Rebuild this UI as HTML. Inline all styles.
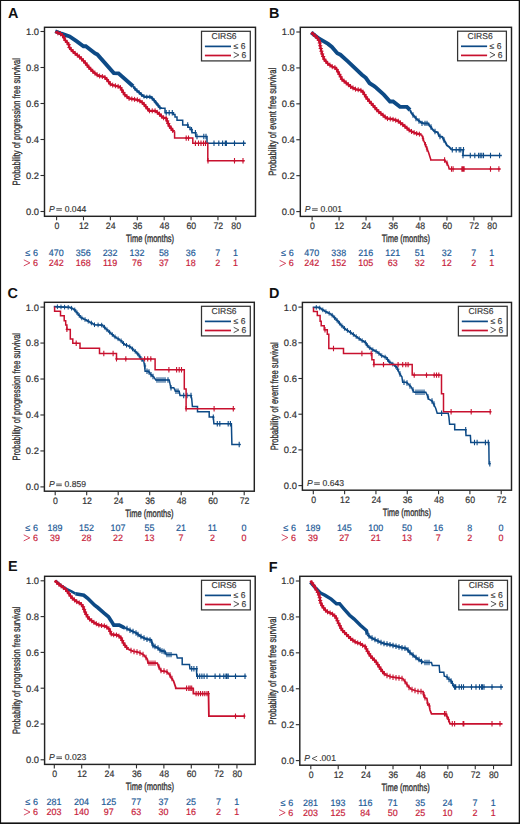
<!DOCTYPE html>
<html><head><meta charset="utf-8"><style>
html,body{margin:0;padding:0;background:#fff;}
svg{display:block;}
text{font-family:"Liberation Sans",sans-serif;text-rendering:geometricPrecision;}
.let{font-size:14.4px;font-weight:bold;fill:#111;}
.ax{fill:none;stroke:#222;stroke-width:1.45;}
.tk{stroke:#2b2b2b;stroke-width:1.1;}
.tl{font-size:9.4px;fill:#333333;stroke:#333333;stroke-width:0.2px;}
.ttl{font-size:10.6px;fill:#333333;stroke:#333333;stroke-width:0.35px;}
.pv{font-size:8.6px;fill:#333333;stroke:#333333;stroke-width:0.15px;}
.lg{fill:#fff;stroke:#333;stroke-width:1.25;}
.lgt{font-size:8.5px;fill:#333333;stroke:#333333;stroke-width:0.15px;}
.rk{font-size:9px;stroke-width:0.2px;}
.rkn{font-size:9.3px;stroke-width:0.2px;}
.cv{fill:none;stroke-linejoin:miter;stroke-linecap:butt;}
.cs{fill:none;}
</style></head><body>
<svg width="520" height="824" viewBox="0 0 520 824">
<rect x="0" y="0" width="520" height="824" fill="#fff"/>
<g id="pA"><text x="8" y="17.5" class="let">A</text><rect x="44.5" y="27.3" width="211" height="189" class="ax"/><line x1="40.5" y1="211.5" x2="44.5" y2="211.5" class="tk"/><text transform="translate(39,214.9) scale(1.0,1)" class="tl" text-anchor="end">0.0</text><line x1="40.5" y1="175.5" x2="44.5" y2="175.5" class="tk"/><text transform="translate(39,178.9) scale(1.0,1)" class="tl" text-anchor="end">0.2</text><line x1="40.5" y1="139.5" x2="44.5" y2="139.5" class="tk"/><text transform="translate(39,142.9) scale(1.0,1)" class="tl" text-anchor="end">0.4</text><line x1="40.5" y1="103.5" x2="44.5" y2="103.5" class="tk"/><text transform="translate(39,106.9) scale(1.0,1)" class="tl" text-anchor="end">0.6</text><line x1="40.5" y1="67.5" x2="44.5" y2="67.5" class="tk"/><text transform="translate(39,70.9) scale(1.0,1)" class="tl" text-anchor="end">0.8</text><line x1="40.5" y1="31.5" x2="44.5" y2="31.5" class="tk"/><text transform="translate(39,34.9) scale(1.0,1)" class="tl" text-anchor="end">1.0</text><line x1="56.6" y1="216.3" x2="56.6" y2="220.3" class="tk"/><text transform="translate(56.9,229) scale(0.93,1)" class="tl" text-anchor="middle">0</text><line x1="83.49" y1="216.3" x2="83.49" y2="220.3" class="tk"/><text transform="translate(83.79,229) scale(0.93,1)" class="tl" text-anchor="middle">12</text><line x1="110.38" y1="216.3" x2="110.38" y2="220.3" class="tk"/><text transform="translate(110.68,229) scale(0.93,1)" class="tl" text-anchor="middle">24</text><line x1="137.28" y1="216.3" x2="137.28" y2="220.3" class="tk"/><text transform="translate(137.58,229) scale(0.93,1)" class="tl" text-anchor="middle">36</text><line x1="164.17" y1="216.3" x2="164.17" y2="220.3" class="tk"/><text transform="translate(164.47,229) scale(0.93,1)" class="tl" text-anchor="middle">48</text><line x1="191.06" y1="216.3" x2="191.06" y2="220.3" class="tk"/><text transform="translate(191.36,229) scale(0.93,1)" class="tl" text-anchor="middle">60</text><line x1="217.95" y1="216.3" x2="217.95" y2="220.3" class="tk"/><text transform="translate(218.25,229) scale(0.93,1)" class="tl" text-anchor="middle">72</text><line x1="235.88" y1="216.3" x2="235.88" y2="220.3" class="tk"/><text transform="translate(236.18,229) scale(0.93,1)" class="tl" text-anchor="middle">80</text><text x="150" y="242.1" class="ttl" text-anchor="middle" textLength="48.2" lengthAdjust="spacingAndGlyphs">Time (months)</text><text transform="translate(20.2,121.8) rotate(-90)" x="0" y="0" class="ttl" text-anchor="middle" textLength="127.5" lengthAdjust="spacingAndGlyphs">Probability of progression free survival</text><text x="49" y="211.9" class="pv" font-style="italic">P</text><path d="M56.3 208.65h5.6M56.3 210.25h5.6" stroke="#4a4a4a" stroke-width="0.9" fill="none"/><text x="64.7" y="211.9" class="pv">0.044</text><rect x="201.5" y="31.3" width="48.8" height="29.6" class="lg"/><text x="211.5" y="39.3" class="lgt">CIRS6</text><line x1="204.9" y1="46.4" x2="231" y2="46.4" stroke="#0d4a86" stroke-width="1.7"/><line x1="204.9" y1="55.5" x2="231" y2="55.5" stroke="#c8102e" stroke-width="1.7"/><text x="233.5" y="49.1" class="lgt">&#8804;</text><text x="240.7" y="49.1" class="lgt">6</text><path d="M233.7 52.3L238.9 54.95L233.7 57.6" stroke="#333333" stroke-width="0.85" fill="none"/><text x="241.6" y="57.8" class="lgt">6</text><text x="30.2" y="256.2" class="rk" fill="#1f5c98" stroke="#1f5c98" text-anchor="end">&#8804;</text><text x="38" y="256.2" class="rk" fill="#1f5c98" stroke="#1f5c98" text-anchor="end">6</text><path d="M23.8 259.8L29.9 262.85L23.8 265.9" stroke="#c81e3c" stroke-width="0.8" fill="none"/><text x="38" y="265.8" class="rk" fill="#c81e3c" stroke="#c81e3c" text-anchor="end">6</text><text transform="translate(56.3,256.2) scale(0.96,1)" class="rkn" fill="#1f5c98" stroke="#1f5c98" text-anchor="middle">470</text><text transform="translate(56.3,265.8) scale(0.96,1)" class="rkn" fill="#c81e3c" stroke="#c81e3c" text-anchor="middle">242</text><text transform="translate(83.19,256.2) scale(0.96,1)" class="rkn" fill="#1f5c98" stroke="#1f5c98" text-anchor="middle">356</text><text transform="translate(83.19,265.8) scale(0.96,1)" class="rkn" fill="#c81e3c" stroke="#c81e3c" text-anchor="middle">168</text><text transform="translate(110.08,256.2) scale(0.96,1)" class="rkn" fill="#1f5c98" stroke="#1f5c98" text-anchor="middle">232</text><text transform="translate(110.08,265.8) scale(0.96,1)" class="rkn" fill="#c81e3c" stroke="#c81e3c" text-anchor="middle">119</text><text transform="translate(136.98,256.2) scale(0.96,1)" class="rkn" fill="#1f5c98" stroke="#1f5c98" text-anchor="middle">132</text><text transform="translate(136.98,265.8) scale(0.96,1)" class="rkn" fill="#c81e3c" stroke="#c81e3c" text-anchor="middle">76</text><text transform="translate(163.87,256.2) scale(0.96,1)" class="rkn" fill="#1f5c98" stroke="#1f5c98" text-anchor="middle">58</text><text transform="translate(163.87,265.8) scale(0.96,1)" class="rkn" fill="#c81e3c" stroke="#c81e3c" text-anchor="middle">37</text><text transform="translate(190.76,256.2) scale(0.96,1)" class="rkn" fill="#1f5c98" stroke="#1f5c98" text-anchor="middle">36</text><text transform="translate(190.76,265.8) scale(0.96,1)" class="rkn" fill="#c81e3c" stroke="#c81e3c" text-anchor="middle">18</text><text transform="translate(217.65,256.2) scale(0.96,1)" class="rkn" fill="#1f5c98" stroke="#1f5c98" text-anchor="middle">7</text><text transform="translate(217.65,265.8) scale(0.96,1)" class="rkn" fill="#c81e3c" stroke="#c81e3c" text-anchor="middle">2</text><text transform="translate(235.58,256.2) scale(0.96,1)" class="rkn" fill="#1f5c98" stroke="#1f5c98" text-anchor="middle">1</text><text transform="translate(235.58,265.8) scale(0.96,1)" class="rkn" fill="#c81e3c" stroke="#c81e3c" text-anchor="middle">1</text><path d="M55.2 31.3 61.5 33.7 69.6 36.5 76.5 41.2 83.5 46.3 85.8 46.3 95 53.3 97.3 54.4 113.8 73.1 118.5 73.4 133.1 86.2" stroke="#0d4a86" stroke-width="3.9" class="cv"/><path d="M133.1 86.2 135.4 89.2 141.5 94.6 144.6 96.9 150.8 96.9 153.8 100 160 107.7 161 108.3" stroke="#0d4a86" stroke-width="2.2" class="cv"/><path d="M134.93 86.38v4.4M133.23 88.58h3.4M137.06 88.47v4.4M135.36 90.67h3.4M139.31 90.46v4.4M137.61 92.66h3.4M141.56 92.44v4.4M139.86 94.64h3.4M143.97 94.23v4.4M142.27 96.43h3.4M146.81 94.7v4.4M145.11 96.9h3.4M149.81 94.7v4.4M148.11 96.9h3.4M152.2 96.15v4.4M150.5 98.35h3.4M154.24 98.34v4.4M152.54 100.54h3.4M156.12 100.68v4.4M154.42 102.88h3.4M158 103.02v4.4M156.3 105.22h3.4M159.88 105.35v4.4M158.18 107.55h3.4" stroke="#0d4a86" stroke-width="1.0" class="cs"/><path d="M160 108.3 165 108.3 165 112.7 173.5 112.7 173.5 114.5 175 114.5 175 117 177 117 177 120.2 182.7 120.2 182.7 125 188 125 188 127.3 190 127.3 190 129.6 192 129.6 192 132.7 195.8 132.7 195.8 136.5 207 136.5 207 143.2 245.8 143.2" stroke="#0d4a86" stroke-width="1.5" class="cv"/><path d="M166.2 110v5.4M165 112.7h2.4M169.2 110v5.4M168 112.7h2.4M172.3 110v5.4M171.1 112.7h2.4M187.7 122.3v5.4M186.5 125h2.4M191.5 126.9v5.4M190.3 129.6h2.4M195.4 130v5.4M194.2 132.7h2.4M197 133.8v5.4M195.8 136.5h2.4M203.8 133.8v5.4M202.6 136.5h2.4M206 133.8v5.4M204.8 136.5h2.4M214 140.5v5.4M212.8 143.2h2.4M218.8 140.5v5.4M217.6 143.2h2.4M222.6 140.5v5.4M221.4 143.2h2.4M225.3 140.5v5.4M224.1 143.2h2.4M226.4 140.5v5.4M225.2 143.2h2.4M234.5 140.5v5.4M233.3 143.2h2.4M243.6 140.5v5.4M242.4 143.2h2.4" stroke="#0d4a86" stroke-width="1.1" class="cs"/><path d="M55.2 31.9 61.5 34.2 63.8 37.1 65 40 68.5 44 69.6 48 74.2 52.7 80 57.3 84.6 62 89.2 67.7 93.8 72.3 98.5 75.8 104.2 76.9 106.2 78.5 110.8 84.6 120 86.9 124.6 94.6 129.2 98.5 138.5 100 143 103 149.2 110.8 155.4 110.8 160 114.6 163 117.7 166 118 169.2 125.8 171.5 128.8 173.8 131.9" stroke="#c8102e" stroke-width="2.3" class="cv"/><path d="M57.83 30.36v5M55.73 32.86h4.2M60.46 31.32v5M58.36 33.82h4.2M62.55 33.03v5M60.45 35.53h4.2M64.1 35.33v5M62 37.83h4.2M65.3 37.84v5M63.2 40.34h4.2M67.14 39.95v5M65.04 42.45h4.2M68.7 42.21v5M66.6 44.71h4.2M69.44 44.91v5M67.34 47.41h4.2M71.13 47.07v5M69.03 49.57h4.2M73.09 49.07v5M70.99 51.57h4.2M75.15 50.95v5M73.05 53.45h4.2M77.34 52.69v5M75.24 55.19h4.2M79.54 54.43v5M77.44 56.93h4.2M81.55 56.38v5M79.45 58.88h4.2M83.5 58.38v5M81.4 60.88h4.2M85.38 60.46v5M83.28 62.96h4.2M87.13 62.64v5M85.03 65.14h4.2M88.89 64.82v5M86.79 67.32h4.2M90.83 66.83v5M88.73 69.33h4.2M92.81 68.81v5M90.71 71.31h4.2M94.93 70.64v5M92.83 73.14h4.2M97.17 72.31v5M95.07 74.81h4.2M99.62 73.52v5M97.52 76.02h4.2M102.37 74.05v5M100.27 76.55h4.2M104.93 74.99v5M102.83 77.49h4.2M106.91 76.94v5M104.81 79.44h4.2M108.6 79.18v5M106.5 81.68h4.2M110.28 81.41v5M108.18 83.91h4.2M112.68 82.57v5M110.58 85.07h4.2M115.4 83.25v5M113.3 85.75h4.2M118.11 83.93v5M116.01 86.43h4.2M120.44 85.13v5M118.34 87.63h4.2M121.87 87.54v5M119.77 90.04h4.2M123.31 89.94v5M121.21 92.44h4.2M124.82 92.28v5M122.72 94.78h4.2M126.95 94.1v5M124.85 96.6h4.2M129.09 95.91v5M126.99 98.41h4.2M131.82 96.42v5M129.72 98.92h4.2M134.58 96.87v5M132.48 99.37h4.2M137.35 97.31v5M135.25 99.81h4.2M139.86 98.41v5M137.76 100.91h4.2M142.19 99.96v5M140.09 102.46h4.2M144.14 101.93v5M142.04 104.43h4.2M145.88 104.12v5M143.78 106.62h4.2M147.62 106.31v5M145.52 108.81h4.2M149.46 108.3v5M147.36 110.8h4.2M152.26 108.3v5M150.16 110.8h4.2M155.06 108.3v5M152.96 110.8h4.2M157.3 109.87v5M155.2 112.37h4.2M159.46 111.65v5M157.36 114.15h4.2M161.46 113.61v5M159.36 116.11h4.2M163.58 115.26v5M161.48 117.76h4.2M166.14 115.84v5M164.04 118.34h4.2M167.2 118.43v5M165.1 120.93h4.2M168.26 121.02v5M166.16 123.52h4.2M169.4 123.57v5M167.3 126.07h4.2M171.11 125.79v5M169.01 128.29h4.2M172.78 128.03v5M170.68 130.53h4.2" stroke="#c8102e" stroke-width="1.0" class="cs"/><path d="M173.8 131.9 174.6 131.9 174.6 138.1 192.8 138.1 192.8 143.2 207.8 143.2 207.8 160.7 244.7 160.7" stroke="#c8102e" stroke-width="1.5" class="cv"/><path d="M186.2 135.4v5.4M185 138.1h2.4M188.5 135.4v5.4M187.3 138.1h2.4M195.4 140.5v5.4M194.2 143.2h2.4M198.5 140.5v5.4M197.3 143.2h2.4M201 140.5v5.4M199.8 143.2h2.4M203.5 140.5v5.4M202.3 143.2h2.4M205.5 140.5v5.4M204.3 143.2h2.4M208 158v5.4M206.8 160.7h2.4M234.5 158v5.4M233.3 160.7h2.4M243 158v5.4M241.8 160.7h2.4" stroke="#c8102e" stroke-width="1.1" class="cs"/></g>
<g id="pB"><text x="268.9" y="17.6" class="let">B</text><rect x="300.3" y="27.3" width="211.2" height="189.1" class="ax"/><line x1="296.3" y1="211.6" x2="300.3" y2="211.6" class="tk"/><text transform="translate(294.8,215) scale(1.0,1)" class="tl" text-anchor="end">0.0</text><line x1="296.3" y1="175.68" x2="300.3" y2="175.68" class="tk"/><text transform="translate(294.8,179.08) scale(1.0,1)" class="tl" text-anchor="end">0.2</text><line x1="296.3" y1="139.76" x2="300.3" y2="139.76" class="tk"/><text transform="translate(294.8,143.16) scale(1.0,1)" class="tl" text-anchor="end">0.4</text><line x1="296.3" y1="103.84" x2="300.3" y2="103.84" class="tk"/><text transform="translate(294.8,107.24) scale(1.0,1)" class="tl" text-anchor="end">0.6</text><line x1="296.3" y1="67.92" x2="300.3" y2="67.92" class="tk"/><text transform="translate(294.8,71.32) scale(1.0,1)" class="tl" text-anchor="end">0.8</text><line x1="296.3" y1="32" x2="300.3" y2="32" class="tk"/><text transform="translate(294.8,35.4) scale(1.0,1)" class="tl" text-anchor="end">1.0</text><line x1="312.1" y1="216.4" x2="312.1" y2="220.4" class="tk"/><text transform="translate(312.4,229.1) scale(0.93,1)" class="tl" text-anchor="middle">0</text><line x1="339.07" y1="216.4" x2="339.07" y2="220.4" class="tk"/><text transform="translate(339.37,229.1) scale(0.93,1)" class="tl" text-anchor="middle">12</text><line x1="366.04" y1="216.4" x2="366.04" y2="220.4" class="tk"/><text transform="translate(366.34,229.1) scale(0.93,1)" class="tl" text-anchor="middle">24</text><line x1="393.01" y1="216.4" x2="393.01" y2="220.4" class="tk"/><text transform="translate(393.31,229.1) scale(0.93,1)" class="tl" text-anchor="middle">36</text><line x1="419.98" y1="216.4" x2="419.98" y2="220.4" class="tk"/><text transform="translate(420.28,229.1) scale(0.93,1)" class="tl" text-anchor="middle">48</text><line x1="446.95" y1="216.4" x2="446.95" y2="220.4" class="tk"/><text transform="translate(447.25,229.1) scale(0.93,1)" class="tl" text-anchor="middle">60</text><line x1="473.92" y1="216.4" x2="473.92" y2="220.4" class="tk"/><text transform="translate(474.22,229.1) scale(0.93,1)" class="tl" text-anchor="middle">72</text><line x1="491.9" y1="216.4" x2="491.9" y2="220.4" class="tk"/><text transform="translate(492.2,229.1) scale(0.93,1)" class="tl" text-anchor="middle">80</text><text x="405.9" y="242.2" class="ttl" text-anchor="middle" textLength="48.2" lengthAdjust="spacingAndGlyphs">Time (months)</text><text transform="translate(276,121.85) rotate(-90)" x="0" y="0" class="ttl" text-anchor="middle" textLength="107.9" lengthAdjust="spacingAndGlyphs">Probability of event free survival</text><text x="304.8" y="212" class="pv" font-style="italic">P</text><path d="M312.1 208.75h5.6M312.1 210.35h5.6" stroke="#4a4a4a" stroke-width="0.9" fill="none"/><text x="320.5" y="212" class="pv">0.001</text><rect x="457.6" y="31.2" width="48.8" height="29.6" class="lg"/><text x="467.6" y="39.2" class="lgt">CIRS6</text><line x1="461" y1="46.3" x2="487.1" y2="46.3" stroke="#0d4a86" stroke-width="1.7"/><line x1="461" y1="55.4" x2="487.1" y2="55.4" stroke="#c8102e" stroke-width="1.7"/><text x="489.6" y="49" class="lgt">&#8804;</text><text x="496.8" y="49" class="lgt">6</text><path d="M489.8 52.2L495 54.85L489.8 57.5" stroke="#333333" stroke-width="0.85" fill="none"/><text x="497.7" y="57.7" class="lgt">6</text><text x="286" y="256.3" class="rk" fill="#1f5c98" stroke="#1f5c98" text-anchor="end">&#8804;</text><text x="293.8" y="256.3" class="rk" fill="#1f5c98" stroke="#1f5c98" text-anchor="end">6</text><path d="M279.6 260.3L285.7 263.35L279.6 266.4" stroke="#c81e3c" stroke-width="0.8" fill="none"/><text x="293.8" y="266.3" class="rk" fill="#c81e3c" stroke="#c81e3c" text-anchor="end">6</text><text transform="translate(311.8,256.3) scale(0.96,1)" class="rkn" fill="#1f5c98" stroke="#1f5c98" text-anchor="middle">470</text><text transform="translate(311.8,266.3) scale(0.96,1)" class="rkn" fill="#c81e3c" stroke="#c81e3c" text-anchor="middle">242</text><text transform="translate(338.77,256.3) scale(0.96,1)" class="rkn" fill="#1f5c98" stroke="#1f5c98" text-anchor="middle">338</text><text transform="translate(338.77,266.3) scale(0.96,1)" class="rkn" fill="#c81e3c" stroke="#c81e3c" text-anchor="middle">152</text><text transform="translate(365.74,256.3) scale(0.96,1)" class="rkn" fill="#1f5c98" stroke="#1f5c98" text-anchor="middle">216</text><text transform="translate(365.74,266.3) scale(0.96,1)" class="rkn" fill="#c81e3c" stroke="#c81e3c" text-anchor="middle">105</text><text transform="translate(392.71,256.3) scale(0.96,1)" class="rkn" fill="#1f5c98" stroke="#1f5c98" text-anchor="middle">121</text><text transform="translate(392.71,266.3) scale(0.96,1)" class="rkn" fill="#c81e3c" stroke="#c81e3c" text-anchor="middle">63</text><text transform="translate(419.68,256.3) scale(0.96,1)" class="rkn" fill="#1f5c98" stroke="#1f5c98" text-anchor="middle">51</text><text transform="translate(419.68,266.3) scale(0.96,1)" class="rkn" fill="#c81e3c" stroke="#c81e3c" text-anchor="middle">32</text><text transform="translate(446.65,256.3) scale(0.96,1)" class="rkn" fill="#1f5c98" stroke="#1f5c98" text-anchor="middle">32</text><text transform="translate(446.65,266.3) scale(0.96,1)" class="rkn" fill="#c81e3c" stroke="#c81e3c" text-anchor="middle">12</text><text transform="translate(473.62,256.3) scale(0.96,1)" class="rkn" fill="#1f5c98" stroke="#1f5c98" text-anchor="middle">7</text><text transform="translate(473.62,266.3) scale(0.96,1)" class="rkn" fill="#c81e3c" stroke="#c81e3c" text-anchor="middle">2</text><text transform="translate(491.6,256.3) scale(0.96,1)" class="rkn" fill="#1f5c98" stroke="#1f5c98" text-anchor="middle">1</text><text transform="translate(491.6,266.3) scale(0.96,1)" class="rkn" fill="#c81e3c" stroke="#c81e3c" text-anchor="middle">1</text><path d="M311.2 32.4 318.8 38.5 328.1 43.9 331.9 47 337.3 53.2 340.4 54.7 348.1 61.6 361.9 74.7 365.8 77.8 369.6 83.2 374.2 86.2 376.2 87.7 383.8 94.6 390 101.5 393.1 101.5 400 106.9 406.9 106.9 410 110" stroke="#0d4a86" stroke-width="3.9" class="cv"/><path d="M410 110 411.5 113.1 416.2 118.5 420.8 122.3 423.8 123.4 428.5 123.4 429.2 125.4 430.8 126.9 432.3 129.2 434.6 131.5 437.7 132.3 439.2 136.2 442.3 136.9 443.8 140 445.4 142.3 446.9 145.4 449.2 146.9 451.5 149.7" stroke="#0d4a86" stroke-width="2.0" class="cv"/><path d="M413 112.3v5.4M411.8 115h2.4M416 115.8v5.4M414.8 118.5h2.4M419 118.3v5.4M417.8 121h2.4M422 120.7v5.4M420.8 123.4h2.4M425 120.7v5.4M423.8 123.4h2.4M427 120.7v5.4M425.8 123.4h2.4M431 124.3v5.4M429.8 127h2.4M435 128.8v5.4M433.8 131.5h2.4M440 133.8v5.4M438.8 136.5h2.4M444 137.3v5.4M442.8 140h2.4" stroke="#0d4a86" stroke-width="1.1" class="cs"/><path d="M451.5 149.7 463 149.7 463 155.5 501.8 155.5" stroke="#0d4a86" stroke-width="1.5" class="cv"/><path d="M452.3 147v5.4M451.1 149.7h2.4M456.2 147v5.4M455 149.7h2.4M459.2 147v5.4M458 149.7h2.4M460.8 147v5.4M459.6 149.7h2.4M463.5 147v5.4M462.3 149.7h2.4M463 152.8v5.4M461.8 155.5h2.4M470.3 152.8v5.4M469.1 155.5h2.4M474.8 152.8v5.4M473.6 155.5h2.4M478.6 152.8v5.4M477.4 155.5h2.4M480.2 152.8v5.4M479 155.5h2.4M481.8 152.8v5.4M480.6 155.5h2.4M483.5 152.8v5.4M482.3 155.5h2.4M490.5 152.8v5.4M489.3 155.5h2.4M499.6 152.8v5.4M498.4 155.5h2.4" stroke="#0d4a86" stroke-width="1.1" class="cs"/><path d="M311.2 32.4 317.3 37.8 319.6 41.6 320.4 47 321.9 53.2 324.2 59.3 328.1 63.9 332.7 67 335.8 67.8 339.6 74.7 341.9 79.3 346.5 83.2 351.2 87 355.8 89.3 360.4 90.1 362.7 91.6 366.5 97.8 369.6 101.6 373.1 105.4 377.7 110.8 382.3 114.6 386.9 118.5 392.3 119.2 397.7 120.8 403.8 125.4 410 130.8 416.2 133.5 421.5 134.6" stroke="#c8102e" stroke-width="2.3" class="cv"/><path d="M313.3 31.76v5M311.2 34.26h4.2M315.39 33.61v5M313.29 36.11h4.2M317.43 35.52v5M315.33 38.02h4.2M318.88 37.91v5M316.78 40.41h4.2M319.81 40.5v5M317.71 43h4.2M320.22 43.27v5M318.12 45.77h4.2M320.77 46.01v5M318.67 48.51h4.2M321.42 48.73v5M319.32 51.23h4.2M322.17 51.42v5M320.07 53.92h4.2M323.16 54.04v5M321.06 56.54h4.2M324.15 56.66v5M322.05 59.16h4.2M325.92 58.82v5M323.82 61.32h4.2M327.73 60.96v5M325.63 63.46h4.2M329.94 62.64v5M327.84 65.14h4.2M332.27 64.21v5M330.17 66.71h4.2M334.9 65.07v5M332.8 67.57h4.2M336.7 66.94v5M334.6 69.44h4.2M338.06 69.4v5M335.96 71.9h4.2M339.41 71.85v5M337.31 74.35h4.2M340.67 74.34v5M338.57 76.84h4.2M341.94 76.84v5M339.84 79.34h4.2M344.08 78.65v5M341.98 81.15h4.2M346.21 80.46v5M344.11 82.96h4.2M348.39 82.22v5M346.29 84.72h4.2M350.56 83.98v5M348.46 86.48h4.2M352.97 85.39v5M350.87 87.89h4.2M355.48 86.64v5M353.38 89.14h4.2M358.2 87.22v5M356.1 89.72h4.2M360.88 87.91v5M358.78 90.41h4.2M363.03 89.63v5M360.93 92.13h4.2M364.49 92.02v5M362.39 94.52h4.2M365.95 94.41v5M363.85 96.91h4.2M367.61 96.66v5M365.51 99.16h4.2M369.38 98.83v5M367.28 101.33h4.2M371.26 100.9v5M369.16 103.4h4.2M373.15 102.96v5M371.05 105.46h4.2M374.97 105.09v5M372.87 107.59h4.2M376.78 107.22v5M374.68 109.72h4.2M378.77 109.18v5M376.67 111.68h4.2M380.93 110.97v5M378.83 113.47h4.2M383.08 112.76v5M380.98 115.26h4.2M385.21 114.57v5M383.11 117.07h4.2M387.48 116.08v5M385.38 118.58h4.2M390.26 116.44v5M388.16 118.94h4.2M393.01 116.91v5M390.91 119.41h4.2M395.7 117.71v5M393.6 120.21h4.2M398.27 118.73v5M396.17 121.23h4.2M400.5 120.41v5M398.4 122.91h4.2M402.74 122.1v5M400.64 124.6h4.2M404.91 123.87v5M402.81 126.37h4.2M407.02 125.71v5M404.92 128.21h4.2M409.13 127.54v5M407.03 130.04h4.2M411.51 128.96v5M409.41 131.46h4.2M414.08 130.08v5M411.98 132.58h4.2M416.68 131.1v5M414.58 133.6h4.2M419.42 131.67v5M417.32 134.17h4.2" stroke="#c8102e" stroke-width="1.0" class="cs"/><path d="M421.5 134.6 423.1 138.5 423.8 140.8 425.4 144.6 426.9 148.5 428.5 152.3 430.8 159.5 430.8 160 444.6 160 446.9 163.1 448.5 166.2 449.2 169 500.7 169" stroke="#c8102e" stroke-width="1.6" class="cv"/><path d="M423 135.8v5.4M421.8 138.5h2.4M425.4 141.9v5.4M424.2 144.6h2.4M427 146.3v5.4M425.8 149h2.4M444.6 157.3v5.4M443.4 160h2.4M447 160.4v5.4M445.8 163.1h2.4M451.5 166.3v5.4M450.3 169h2.4M453.1 166.3v5.4M451.9 169h2.4M461.9 166.3v5.4M460.7 169h2.4M463 166.3v5.4M461.8 169h2.4M464.1 166.3v5.4M462.9 169h2.4M490.5 166.3v5.4M489.3 169h2.4M498.9 166.3v5.4M497.7 169h2.4" stroke="#c8102e" stroke-width="1.1" class="cs"/></g>
<g id="pC"><text x="7.4" y="298.2" class="let">C</text><rect x="44.4" y="302.3" width="209.9" height="188.9" class="ax"/><line x1="40.4" y1="486.9" x2="44.4" y2="486.9" class="tk"/><text transform="translate(38.9,490.3) scale(1.0,1)" class="tl" text-anchor="end">0.0</text><line x1="40.4" y1="450.94" x2="44.4" y2="450.94" class="tk"/><text transform="translate(38.9,454.34) scale(1.0,1)" class="tl" text-anchor="end">0.2</text><line x1="40.4" y1="414.98" x2="44.4" y2="414.98" class="tk"/><text transform="translate(38.9,418.38) scale(1.0,1)" class="tl" text-anchor="end">0.4</text><line x1="40.4" y1="379.02" x2="44.4" y2="379.02" class="tk"/><text transform="translate(38.9,382.42) scale(1.0,1)" class="tl" text-anchor="end">0.6</text><line x1="40.4" y1="343.06" x2="44.4" y2="343.06" class="tk"/><text transform="translate(38.9,346.46) scale(1.0,1)" class="tl" text-anchor="end">0.8</text><line x1="40.4" y1="307.1" x2="44.4" y2="307.1" class="tk"/><text transform="translate(38.9,310.5) scale(1.0,1)" class="tl" text-anchor="end">1.0</text><line x1="55.2" y1="491.2" x2="55.2" y2="495.2" class="tk"/><text transform="translate(55.5,503.9) scale(0.93,1)" class="tl" text-anchor="middle">0</text><line x1="86.7" y1="491.2" x2="86.7" y2="495.2" class="tk"/><text transform="translate(87,503.9) scale(0.93,1)" class="tl" text-anchor="middle">12</text><line x1="118.2" y1="491.2" x2="118.2" y2="495.2" class="tk"/><text transform="translate(118.5,503.9) scale(0.93,1)" class="tl" text-anchor="middle">24</text><line x1="149.7" y1="491.2" x2="149.7" y2="495.2" class="tk"/><text transform="translate(150,503.9) scale(0.93,1)" class="tl" text-anchor="middle">36</text><line x1="181.2" y1="491.2" x2="181.2" y2="495.2" class="tk"/><text transform="translate(181.5,503.9) scale(0.93,1)" class="tl" text-anchor="middle">48</text><line x1="212.7" y1="491.2" x2="212.7" y2="495.2" class="tk"/><text transform="translate(213,503.9) scale(0.93,1)" class="tl" text-anchor="middle">60</text><line x1="244.2" y1="491.2" x2="244.2" y2="495.2" class="tk"/><text transform="translate(244.5,503.9) scale(0.93,1)" class="tl" text-anchor="middle">72</text><text x="149.35" y="517" class="ttl" text-anchor="middle" textLength="48.2" lengthAdjust="spacingAndGlyphs">Time (months)</text><text transform="translate(20.1,396.75) rotate(-90)" x="0" y="0" class="ttl" text-anchor="middle" textLength="127.5" lengthAdjust="spacingAndGlyphs">Probability of progression free survival</text><text x="48.9" y="487.3" class="pv" font-style="italic">P</text><path d="M56.2 484.05h5.6M56.2 485.65h5.6" stroke="#4a4a4a" stroke-width="0.9" fill="none"/><text x="64.6" y="487.3" class="pv">0.859</text><rect x="201.5" y="306.3" width="48.8" height="29.6" class="lg"/><text x="211.5" y="314.3" class="lgt">CIRS6</text><line x1="204.9" y1="321.4" x2="231" y2="321.4" stroke="#0d4a86" stroke-width="1.7"/><line x1="204.9" y1="330.5" x2="231" y2="330.5" stroke="#c8102e" stroke-width="1.7"/><text x="233.5" y="324.1" class="lgt">&#8804;</text><text x="240.7" y="324.1" class="lgt">6</text><path d="M233.7 327.3L238.9 329.95L233.7 332.6" stroke="#333333" stroke-width="0.85" fill="none"/><text x="241.6" y="332.8" class="lgt">6</text><text x="30.1" y="531.2" class="rk" fill="#1f5c98" stroke="#1f5c98" text-anchor="end">&#8804;</text><text x="37.9" y="531.2" class="rk" fill="#1f5c98" stroke="#1f5c98" text-anchor="end">6</text><path d="M23.7 534.8L29.8 537.85L23.7 540.9" stroke="#c81e3c" stroke-width="0.8" fill="none"/><text x="37.9" y="540.8" class="rk" fill="#c81e3c" stroke="#c81e3c" text-anchor="end">6</text><text transform="translate(54.9,531.2) scale(0.96,1)" class="rkn" fill="#1f5c98" stroke="#1f5c98" text-anchor="middle">189</text><text transform="translate(54.9,540.8) scale(0.96,1)" class="rkn" fill="#c81e3c" stroke="#c81e3c" text-anchor="middle">39</text><text transform="translate(86.4,531.2) scale(0.96,1)" class="rkn" fill="#1f5c98" stroke="#1f5c98" text-anchor="middle">152</text><text transform="translate(86.4,540.8) scale(0.96,1)" class="rkn" fill="#c81e3c" stroke="#c81e3c" text-anchor="middle">28</text><text transform="translate(117.9,531.2) scale(0.96,1)" class="rkn" fill="#1f5c98" stroke="#1f5c98" text-anchor="middle">107</text><text transform="translate(117.9,540.8) scale(0.96,1)" class="rkn" fill="#c81e3c" stroke="#c81e3c" text-anchor="middle">22</text><text transform="translate(149.4,531.2) scale(0.96,1)" class="rkn" fill="#1f5c98" stroke="#1f5c98" text-anchor="middle">55</text><text transform="translate(149.4,540.8) scale(0.96,1)" class="rkn" fill="#c81e3c" stroke="#c81e3c" text-anchor="middle">13</text><text transform="translate(180.9,531.2) scale(0.96,1)" class="rkn" fill="#1f5c98" stroke="#1f5c98" text-anchor="middle">21</text><text transform="translate(180.9,540.8) scale(0.96,1)" class="rkn" fill="#c81e3c" stroke="#c81e3c" text-anchor="middle">7</text><text transform="translate(212.4,531.2) scale(0.96,1)" class="rkn" fill="#1f5c98" stroke="#1f5c98" text-anchor="middle">11</text><text transform="translate(212.4,540.8) scale(0.96,1)" class="rkn" fill="#c81e3c" stroke="#c81e3c" text-anchor="middle">2</text><text transform="translate(243.9,531.2) scale(0.96,1)" class="rkn" fill="#1f5c98" stroke="#1f5c98" text-anchor="middle">0</text><text transform="translate(243.9,540.8) scale(0.96,1)" class="rkn" fill="#c81e3c" stroke="#c81e3c" text-anchor="middle">0</text><path d="M53.8 306.6 70 307.4 74.6 309.7 80.8 317.4 86.9 320.5 94.6 324.8 102.3 325.1 108.5 331.2 114.6 336.6 120.8 340.5 124.6 344.6 129.2 346.2 133.8 350 138.5 354.6 141.5 359.2 143.8 361.5" stroke="#0d4a86" stroke-width="1.6" class="cv"/><path d="M57.4 304.48v4.6M55.7 306.78h3.4M60.99 304.66v4.6M59.29 306.96h3.4M64.59 304.83v4.6M62.89 307.13h3.4M68.18 305.01v4.6M66.48 307.31h3.4M71.59 305.9v4.6M69.89 308.2h3.4M74.75 307.58v4.6M73.05 309.88h3.4M77.01 310.39v4.6M75.31 312.69h3.4M79.26 313.19v4.6M77.56 315.49h3.4M81.83 315.62v4.6M80.13 317.92h3.4M85.04 317.25v4.6M83.34 319.55h3.4M88.22 318.94v4.6M86.52 321.24h3.4M91.36 320.69v4.6M89.66 322.99h3.4M94.5 322.45v4.6M92.8 324.75h3.4M98.09 322.64v4.6M96.39 324.94h3.4M101.68 322.78v4.6M99.98 325.08h3.4M104.43 324.89v4.6M102.73 327.19h3.4M106.99 327.42v4.6M105.29 329.72h3.4M109.61 329.89v4.6M107.91 332.19h3.4M112.31 332.27v4.6M110.61 334.57h3.4M115.06 334.59v4.6M113.36 336.89h3.4M118.1 336.5v4.6M116.4 338.8h3.4M121.08 338.5v4.6M119.38 340.8h3.4M123.53 341.14v4.6M121.83 343.44h3.4M126.51 342.97v4.6M124.81 345.27h3.4M129.78 344.38v4.6M128.08 346.68h3.4M132.56 346.67v4.6M130.86 348.97h3.4M135.22 349.09v4.6M133.52 351.39h3.4M137.79 351.61v4.6M136.09 353.91h3.4M139.93 354.49v4.6M138.23 356.79h3.4M142.01 357.41v4.6M140.31 359.71h3.4" stroke="#0d4a86" stroke-width="1.0" class="cs"/><path d="" stroke="#0d4a86" stroke-width="1.1" class="cs"/><path d="M143.8 361.5 144.6 366.2 145.1 371.2 148.5 371.2 150.8 374.6 153.8 376.9 155.7 380 169.2 380 170 383.8 170.8 387.7 173.8 387.7 175.4 391.2 179.2 391.2 180 395.5 191 395.5 191.7 398.5 192.4 406.5 197.5 406.5 197.5 411.7 209.2 411.7 209.2 417.1 213.3 417.1 213.9 423.8 231.4 423.8 231.9 444.5 240.7 444.5" stroke="#0d4a86" stroke-width="1.5" class="cv"/><path d="M145 363.3v5.4M143.8 366h2.4M147 368.5v5.4M145.8 371.2h2.4M149 369.3v5.4M147.8 372h2.4M151 371.9v5.4M149.8 374.6h2.4M153 373.8v5.4M151.8 376.5h2.4M157 377.3v5.4M155.8 380h2.4M159 377.3v5.4M157.8 380h2.4M161 377.3v5.4M159.8 380h2.4M163 377.3v5.4M161.8 380h2.4M165 377.3v5.4M163.8 380h2.4M168 377.3v5.4M166.8 380h2.4M171 385v5.4M169.8 387.7h2.4M176 388.5v5.4M174.8 391.2h2.4M178 388.5v5.4M176.8 391.2h2.4M183.7 392.8v5.4M182.5 395.5h2.4M187 392.8v5.4M185.8 395.5h2.4M191 392.8v5.4M189.8 395.5h2.4M213.3 414.4v5.4M212.1 417.1h2.4M217.3 421.1v5.4M216.1 423.8h2.4M219.8 421.1v5.4M218.6 423.8h2.4M228.2 421.1v5.4M227 423.8h2.4M230.4 421.1v5.4M229.2 423.8h2.4M239.2 441.8v5.4M238 444.5h2.4" stroke="#0d4a86" stroke-width="1.1" class="cs"/><path d="M54.6 306.6 54.6 311.2 60.5 311.2 60.5 315.8 64.2 315.8 64.2 320.8 65.7 320.8 65.7 325.1 66.9 325.1 66.9 329.4 70.3 329.4 70.3 338.9 72.8 338.9 72.8 343.2 80 343.2 80 348.2 99.5 348.2 99.5 353.5 116.5 353.5 116.5 358.9 155.1 358.9 155.1 369.7 184.3 369.7 184.3 389.1 186.1 389.1 186.1 408.7 235.2 408.7" stroke="#c8102e" stroke-width="1.5" class="cv"/><path d="M66.9 326.7v5.4M65.7 329.4h2.4M76.2 340.5v5.4M75 343.2h2.4M103.8 350.8v5.4M102.6 353.5h2.4M113.1 350.8v5.4M111.9 353.5h2.4M116.5 356.2v5.4M115.3 358.9h2.4M125.8 356.2v5.4M124.6 358.9h2.4M144.6 356.2v5.4M143.4 358.9h2.4M147.7 356.2v5.4M146.5 358.9h2.4M150.8 356.2v5.4M149.6 358.9h2.4M168.9 367v5.4M167.7 369.7h2.4M176.6 367v5.4M175.4 369.7h2.4M179.2 367v5.4M178 369.7h2.4M181.5 367v5.4M180.3 369.7h2.4M186.1 406v5.4M184.9 408.7h2.4M214.1 406v5.4M212.9 408.7h2.4M233.3 406v5.4M232.1 408.7h2.4" stroke="#c8102e" stroke-width="1.1" class="cs"/></g>
<g id="pD"><text x="269" y="297.9" class="let">D</text><rect x="302.4" y="302.4" width="209.1" height="187.8" class="ax"/><line x1="298.4" y1="485.6" x2="302.4" y2="485.6" class="tk"/><text transform="translate(296.9,489) scale(1.0,1)" class="tl" text-anchor="end">0.0</text><line x1="298.4" y1="449.9" x2="302.4" y2="449.9" class="tk"/><text transform="translate(296.9,453.3) scale(1.0,1)" class="tl" text-anchor="end">0.2</text><line x1="298.4" y1="414.2" x2="302.4" y2="414.2" class="tk"/><text transform="translate(296.9,417.6) scale(1.0,1)" class="tl" text-anchor="end">0.4</text><line x1="298.4" y1="378.5" x2="302.4" y2="378.5" class="tk"/><text transform="translate(296.9,381.9) scale(1.0,1)" class="tl" text-anchor="end">0.6</text><line x1="298.4" y1="342.8" x2="302.4" y2="342.8" class="tk"/><text transform="translate(296.9,346.2) scale(1.0,1)" class="tl" text-anchor="end">0.8</text><line x1="298.4" y1="307.1" x2="302.4" y2="307.1" class="tk"/><text transform="translate(296.9,310.5) scale(1.0,1)" class="tl" text-anchor="end">1.0</text><line x1="313.3" y1="490.2" x2="313.3" y2="494.2" class="tk"/><text transform="translate(313.6,502.9) scale(0.93,1)" class="tl" text-anchor="middle">0</text><line x1="344.62" y1="490.2" x2="344.62" y2="494.2" class="tk"/><text transform="translate(344.92,502.9) scale(0.93,1)" class="tl" text-anchor="middle">12</text><line x1="375.94" y1="490.2" x2="375.94" y2="494.2" class="tk"/><text transform="translate(376.24,502.9) scale(0.93,1)" class="tl" text-anchor="middle">24</text><line x1="407.26" y1="490.2" x2="407.26" y2="494.2" class="tk"/><text transform="translate(407.56,502.9) scale(0.93,1)" class="tl" text-anchor="middle">36</text><line x1="438.58" y1="490.2" x2="438.58" y2="494.2" class="tk"/><text transform="translate(438.88,502.9) scale(0.93,1)" class="tl" text-anchor="middle">48</text><line x1="469.9" y1="490.2" x2="469.9" y2="494.2" class="tk"/><text transform="translate(470.2,502.9) scale(0.93,1)" class="tl" text-anchor="middle">60</text><line x1="501.22" y1="490.2" x2="501.22" y2="494.2" class="tk"/><text transform="translate(501.52,502.9) scale(0.93,1)" class="tl" text-anchor="middle">72</text><text x="406.95" y="516" class="ttl" text-anchor="middle" textLength="48.2" lengthAdjust="spacingAndGlyphs">Time (months)</text><text transform="translate(278.1,396.3) rotate(-90)" x="0" y="0" class="ttl" text-anchor="middle" textLength="107.9" lengthAdjust="spacingAndGlyphs">Probability of event free survival</text><text x="306.9" y="486" class="pv" font-style="italic">P</text><path d="M314.2 482.75h5.6M314.2 484.35h5.6" stroke="#4a4a4a" stroke-width="0.9" fill="none"/><text x="322.6" y="486" class="pv">0.643</text><rect x="458.4" y="306.3" width="48.8" height="29.6" class="lg"/><text x="468.4" y="314.3" class="lgt">CIRS6</text><line x1="461.8" y1="321.4" x2="487.9" y2="321.4" stroke="#0d4a86" stroke-width="1.7"/><line x1="461.8" y1="330.5" x2="487.9" y2="330.5" stroke="#c8102e" stroke-width="1.7"/><text x="490.4" y="324.1" class="lgt">&#8804;</text><text x="497.6" y="324.1" class="lgt">6</text><path d="M490.6 327.3L495.8 329.95L490.6 332.6" stroke="#333333" stroke-width="0.85" fill="none"/><text x="498.5" y="332.8" class="lgt">6</text><text x="288.1" y="530.6" class="rk" fill="#1f5c98" stroke="#1f5c98" text-anchor="end">&#8804;</text><text x="295.9" y="530.6" class="rk" fill="#1f5c98" stroke="#1f5c98" text-anchor="end">6</text><path d="M281.7 534.5L287.8 537.55L281.7 540.6" stroke="#c81e3c" stroke-width="0.8" fill="none"/><text x="295.9" y="540.5" class="rk" fill="#c81e3c" stroke="#c81e3c" text-anchor="end">6</text><text transform="translate(313,530.6) scale(0.96,1)" class="rkn" fill="#1f5c98" stroke="#1f5c98" text-anchor="middle">189</text><text transform="translate(313,540.5) scale(0.96,1)" class="rkn" fill="#c81e3c" stroke="#c81e3c" text-anchor="middle">39</text><text transform="translate(344.32,530.6) scale(0.96,1)" class="rkn" fill="#1f5c98" stroke="#1f5c98" text-anchor="middle">145</text><text transform="translate(344.32,540.5) scale(0.96,1)" class="rkn" fill="#c81e3c" stroke="#c81e3c" text-anchor="middle">27</text><text transform="translate(375.64,530.6) scale(0.96,1)" class="rkn" fill="#1f5c98" stroke="#1f5c98" text-anchor="middle">100</text><text transform="translate(375.64,540.5) scale(0.96,1)" class="rkn" fill="#c81e3c" stroke="#c81e3c" text-anchor="middle">21</text><text transform="translate(406.96,530.6) scale(0.96,1)" class="rkn" fill="#1f5c98" stroke="#1f5c98" text-anchor="middle">50</text><text transform="translate(406.96,540.5) scale(0.96,1)" class="rkn" fill="#c81e3c" stroke="#c81e3c" text-anchor="middle">13</text><text transform="translate(438.28,530.6) scale(0.96,1)" class="rkn" fill="#1f5c98" stroke="#1f5c98" text-anchor="middle">16</text><text transform="translate(438.28,540.5) scale(0.96,1)" class="rkn" fill="#c81e3c" stroke="#c81e3c" text-anchor="middle">7</text><text transform="translate(469.6,530.6) scale(0.96,1)" class="rkn" fill="#1f5c98" stroke="#1f5c98" text-anchor="middle">8</text><text transform="translate(469.6,540.5) scale(0.96,1)" class="rkn" fill="#c81e3c" stroke="#c81e3c" text-anchor="middle">2</text><text transform="translate(500.92,530.6) scale(0.96,1)" class="rkn" fill="#1f5c98" stroke="#1f5c98" text-anchor="middle">0</text><text transform="translate(500.92,540.5) scale(0.96,1)" class="rkn" fill="#c81e3c" stroke="#c81e3c" text-anchor="middle">0</text><path d="M312.7 307.4 318.8 307.4 325 311.2 331.2 314.3 335.8 318.9 340.4 324.3 345 328.9 351.2 332.8 357.3 337.4 361.9 340.5 365 342 368.1 346.6 372.7 349.7 377.3 352 381.2 355.4 386.5 357.7 388.8 361.5 393.5 364.6 396.5 366.9 398.1 370" stroke="#0d4a86" stroke-width="1.6" class="cv"/><path d="M316.3 305.1v4.6M314.6 307.4h3.4M319.74 305.67v4.6M318.04 307.97h3.4M322.81 307.56v4.6M321.11 309.86h3.4M325.92 309.36v4.6M324.22 311.66h3.4M329.14 310.97v4.6M327.44 313.27h3.4M332.12 312.92v4.6M330.42 315.22h3.4M334.66 315.46v4.6M332.96 317.76h3.4M337.09 318.12v4.6M335.39 320.42h3.4M339.43 320.86v4.6M337.73 323.16h3.4M341.88 323.48v4.6M340.18 325.78h3.4M344.43 326.03v4.6M342.73 328.33h3.4M347.36 328.09v4.6M345.66 330.39h3.4M350.41 330v4.6M348.71 332.3h3.4M353.33 332.11v4.6M351.63 334.41h3.4M356.2 334.27v4.6M354.5 336.57h3.4M359.15 336.34v4.6M357.45 338.64h3.4M362.15 338.32v4.6M360.45 340.62h3.4M365.24 340.06v4.6M363.54 342.36h3.4M367.26 343.05v4.6M365.56 345.35h3.4M369.83 345.47v4.6M368.13 347.77h3.4M372.83 347.46v4.6M371.13 349.76h3.4M376.05 349.07v4.6M374.35 351.37h3.4M378.96 351.15v4.6M377.26 353.45h3.4M381.77 353.35v4.6M380.07 355.65h3.4M385.08 354.78v4.6M383.38 357.08h3.4M387.56 357.15v4.6M385.86 359.45h3.4M389.81 359.86v4.6M388.11 362.16h3.4M392.81 361.85v4.6M391.11 364.15h3.4M395.7 363.99v4.6M394 366.29h3.4M397.69 366.91v4.6M395.99 369.21h3.4" stroke="#0d4a86" stroke-width="1.0" class="cs"/><path d="" stroke="#0d4a86" stroke-width="1.1" class="cs"/><path d="M398.1 370 399.6 373.8 401.9 376.9 402.7 382.3 406.5 382.3 408.8 384.6 411.2 386.9 412.7 390 414.2 392.3 425.8 392.3 427.3 395.4 428.8 399.2 431.9 400.8 433.5 403.8 435.7 408.2 437.2 413.3 448.2 413.3 448.9 416.9 449.6 424.2 454.7 424.2 454.7 429.8 465.7 429.8 466 435.6 470.4 435.6 470.8 442.5 488.8 442.5 489.1 463.7 489.8 463.7" stroke="#0d4a86" stroke-width="1.5" class="cv"/><path d="M400 371.3v5.4M398.8 374h2.4M404 379.6v5.4M402.8 382.3h2.4M407 380.3v5.4M405.8 383h2.4M410 383.3v5.4M408.8 386h2.4M413 387.3v5.4M411.8 390h2.4M416 389.6v5.4M414.8 392.3h2.4M418 389.6v5.4M416.8 392.3h2.4M420 389.6v5.4M418.8 392.3h2.4M422 389.6v5.4M420.8 392.3h2.4M424 389.6v5.4M422.8 392.3h2.4M428 394.3v5.4M426.8 397h2.4M432 398.3v5.4M430.8 401h2.4M434 401.3v5.4M432.8 404h2.4M441.6 410.6v5.4M440.4 413.3h2.4M465.7 427.1v5.4M464.5 429.8h2.4M474.5 439.8v5.4M473.3 442.5h2.4M477.1 439.8v5.4M475.9 442.5h2.4M485.4 439.8v5.4M484.2 442.5h2.4M488.3 439.8v5.4M487.1 442.5h2.4M489.8 461v5.4M488.6 463.7h2.4" stroke="#0d4a86" stroke-width="1.1" class="cs"/><path d="M313.5 307.4 313.5 311.5 317.3 311.5 317.3 315.5 320.1 315.5 320.1 321.2 321.2 321.2 321.2 325.8 324.2 325.8 324.2 329.7 327.3 329.7 327.3 334.3 328.8 334.3 328.8 348.5 343.5 348.5 343.5 353.5 371.9 353.5 371.9 359.7 373.9 359.7 373.9 364.6 412.2 364.6 412.2 375.1 441.5 375.1 441.5 393.8 443.5 393.8 443.5 411.8 491.3 411.8" stroke="#c8102e" stroke-width="1.5" class="cv"/><path d="M325 327v5.4M323.8 329.7h2.4M333.5 345.8v5.4M332.3 348.5h2.4M361.9 350.8v5.4M360.7 353.5h2.4M371.2 350.8v5.4M370 353.5h2.4M373.9 361.9v5.4M372.7 364.6h2.4M383.5 361.9v5.4M382.3 364.6h2.4M398.1 361.9v5.4M396.9 364.6h2.4M402.7 361.9v5.4M401.5 364.6h2.4M405.8 361.9v5.4M404.6 364.6h2.4M408.1 361.9v5.4M406.9 364.6h2.4M414.2 372.4v5.4M413 375.1h2.4M426.5 372.4v5.4M425.3 375.1h2.4M434.2 372.4v5.4M433 375.1h2.4M436.5 372.4v5.4M435.3 375.1h2.4M438.8 372.4v5.4M437.6 375.1h2.4M451.1 409.1v5.4M449.9 411.8h2.4M471.2 409.1v5.4M470 411.8h2.4M490.2 409.1v5.4M489 411.8h2.4" stroke="#c8102e" stroke-width="1.1" class="cs"/></g>
<g id="pE"><text x="7.9" y="571.1" class="let">E</text><rect x="44.6" y="576.3" width="210.6" height="188.1" class="ax"/><line x1="40.6" y1="759.8" x2="44.6" y2="759.8" class="tk"/><text transform="translate(39.1,763.2) scale(1.0,1)" class="tl" text-anchor="end">0.0</text><line x1="40.6" y1="724" x2="44.6" y2="724" class="tk"/><text transform="translate(39.1,727.4) scale(1.0,1)" class="tl" text-anchor="end">0.2</text><line x1="40.6" y1="688.2" x2="44.6" y2="688.2" class="tk"/><text transform="translate(39.1,691.6) scale(1.0,1)" class="tl" text-anchor="end">0.4</text><line x1="40.6" y1="652.4" x2="44.6" y2="652.4" class="tk"/><text transform="translate(39.1,655.8) scale(1.0,1)" class="tl" text-anchor="end">0.6</text><line x1="40.6" y1="616.6" x2="44.6" y2="616.6" class="tk"/><text transform="translate(39.1,620) scale(1.0,1)" class="tl" text-anchor="end">0.8</text><line x1="40.6" y1="580.8" x2="44.6" y2="580.8" class="tk"/><text transform="translate(39.1,584.2) scale(1.0,1)" class="tl" text-anchor="end">1.0</text><line x1="54.3" y1="764.4" x2="54.3" y2="768.4" class="tk"/><text transform="translate(54.6,777.1) scale(0.93,1)" class="tl" text-anchor="middle">0</text><line x1="81.7" y1="764.4" x2="81.7" y2="768.4" class="tk"/><text transform="translate(82,777.1) scale(0.93,1)" class="tl" text-anchor="middle">12</text><line x1="109.09" y1="764.4" x2="109.09" y2="768.4" class="tk"/><text transform="translate(109.39,777.1) scale(0.93,1)" class="tl" text-anchor="middle">24</text><line x1="136.49" y1="764.4" x2="136.49" y2="768.4" class="tk"/><text transform="translate(136.79,777.1) scale(0.93,1)" class="tl" text-anchor="middle">36</text><line x1="163.88" y1="764.4" x2="163.88" y2="768.4" class="tk"/><text transform="translate(164.18,777.1) scale(0.93,1)" class="tl" text-anchor="middle">48</text><line x1="191.28" y1="764.4" x2="191.28" y2="768.4" class="tk"/><text transform="translate(191.58,777.1) scale(0.93,1)" class="tl" text-anchor="middle">60</text><line x1="218.68" y1="764.4" x2="218.68" y2="768.4" class="tk"/><text transform="translate(218.98,777.1) scale(0.93,1)" class="tl" text-anchor="middle">72</text><line x1="236.94" y1="764.4" x2="236.94" y2="768.4" class="tk"/><text transform="translate(237.24,777.1) scale(0.93,1)" class="tl" text-anchor="middle">80</text><text x="149.9" y="790.2" class="ttl" text-anchor="middle" textLength="48.2" lengthAdjust="spacingAndGlyphs">Time (months)</text><text transform="translate(20.3,670.35) rotate(-90)" x="0" y="0" class="ttl" text-anchor="middle" textLength="127.5" lengthAdjust="spacingAndGlyphs">Probability of progression free survival</text><text x="49.1" y="760.2" class="pv" font-style="italic">P</text><path d="M56.4 756.95h5.6M56.4 758.55h5.6" stroke="#4a4a4a" stroke-width="0.9" fill="none"/><text x="64.8" y="760.2" class="pv">0.023</text><rect x="201.5" y="580.3" width="48.8" height="29.6" class="lg"/><text x="211.5" y="588.3" class="lgt">CIRS6</text><line x1="204.9" y1="595.4" x2="231" y2="595.4" stroke="#0d4a86" stroke-width="1.7"/><line x1="204.9" y1="604.5" x2="231" y2="604.5" stroke="#c8102e" stroke-width="1.7"/><text x="233.5" y="598.1" class="lgt">&#8804;</text><text x="240.7" y="598.1" class="lgt">6</text><path d="M233.7 601.3L238.9 603.95L233.7 606.6" stroke="#333333" stroke-width="0.85" fill="none"/><text x="241.6" y="606.8" class="lgt">6</text><text x="30.3" y="805" class="rk" fill="#1f5c98" stroke="#1f5c98" text-anchor="end">&#8804;</text><text x="38.1" y="805" class="rk" fill="#1f5c98" stroke="#1f5c98" text-anchor="end">6</text><path d="M23.9 809L30 812.05L23.9 815.1" stroke="#c81e3c" stroke-width="0.8" fill="none"/><text x="38.1" y="815" class="rk" fill="#c81e3c" stroke="#c81e3c" text-anchor="end">6</text><text transform="translate(54,805) scale(0.96,1)" class="rkn" fill="#1f5c98" stroke="#1f5c98" text-anchor="middle">281</text><text transform="translate(54,815) scale(0.96,1)" class="rkn" fill="#c81e3c" stroke="#c81e3c" text-anchor="middle">203</text><text transform="translate(81.4,805) scale(0.96,1)" class="rkn" fill="#1f5c98" stroke="#1f5c98" text-anchor="middle">204</text><text transform="translate(81.4,815) scale(0.96,1)" class="rkn" fill="#c81e3c" stroke="#c81e3c" text-anchor="middle">140</text><text transform="translate(108.79,805) scale(0.96,1)" class="rkn" fill="#1f5c98" stroke="#1f5c98" text-anchor="middle">125</text><text transform="translate(108.79,815) scale(0.96,1)" class="rkn" fill="#c81e3c" stroke="#c81e3c" text-anchor="middle">97</text><text transform="translate(136.19,805) scale(0.96,1)" class="rkn" fill="#1f5c98" stroke="#1f5c98" text-anchor="middle">77</text><text transform="translate(136.19,815) scale(0.96,1)" class="rkn" fill="#c81e3c" stroke="#c81e3c" text-anchor="middle">63</text><text transform="translate(163.58,805) scale(0.96,1)" class="rkn" fill="#1f5c98" stroke="#1f5c98" text-anchor="middle">37</text><text transform="translate(163.58,815) scale(0.96,1)" class="rkn" fill="#c81e3c" stroke="#c81e3c" text-anchor="middle">30</text><text transform="translate(190.98,805) scale(0.96,1)" class="rkn" fill="#1f5c98" stroke="#1f5c98" text-anchor="middle">25</text><text transform="translate(190.98,815) scale(0.96,1)" class="rkn" fill="#c81e3c" stroke="#c81e3c" text-anchor="middle">16</text><text transform="translate(218.38,805) scale(0.96,1)" class="rkn" fill="#1f5c98" stroke="#1f5c98" text-anchor="middle">7</text><text transform="translate(218.38,815) scale(0.96,1)" class="rkn" fill="#c81e3c" stroke="#c81e3c" text-anchor="middle">2</text><text transform="translate(236.64,805) scale(0.96,1)" class="rkn" fill="#1f5c98" stroke="#1f5c98" text-anchor="middle">1</text><text transform="translate(236.64,815) scale(0.96,1)" class="rkn" fill="#c81e3c" stroke="#c81e3c" text-anchor="middle">1</text><path d="M55.4 580.6 61.5 586 66.9 589.1 71.5 591.4 75.4 593.7" stroke="#0d4a86" stroke-width="2.6" class="cv"/><path d="M75.4 593.7 83.8 595.2 87.7 598.3 94.6 605.2 97.7 607.5 103.8 612.9 108.5 616.8 111.5 621.4 113.8 625.2 119.2 625.2 123.8 627.5 125 627.7" stroke="#0d4a86" stroke-width="3.7" class="cv"/><path d="M125 627.7 131.2 630.8 136.5 633.1 140.4 636.2 146.5 639.2 151.2 640 152.7 645.4 157.3 647.7 161.2 650.8 165 651.5 165.8 654.6" stroke="#0d4a86" stroke-width="2.2" class="cv"/><path d="M127 625.8v5.4M125.8 628.5h2.4M130 627.6v5.4M128.8 630.3h2.4M133 628.8v5.4M131.8 631.5h2.4M136 630.3v5.4M134.8 633h2.4M138 631.8v5.4M136.8 634.5h2.4M141 633.8v5.4M139.8 636.5h2.4M144 635.3v5.4M142.8 638h2.4M147 636.7v5.4M145.8 639.4h2.4M150 637.3v5.4M148.8 640h2.4M153 642.8v5.4M151.8 645.5h2.4M155 643.8v5.4M153.8 646.5h2.4M158 645.3v5.4M156.8 648h2.4M160 647.3v5.4M158.8 650h2.4M162 648.3v5.4M160.8 651h2.4M164 648.8v5.4M162.8 651.5h2.4" stroke="#0d4a86" stroke-width="1.1" class="cs"/><path d="M165.8 654.6 176.5 654.6 177.3 658 182.2 658 182.2 664.6 189.5 664.6 189.9 668.7 196.4 668.7 196.8 676.3 246.5 676.3" stroke="#0d4a86" stroke-width="1.5" class="cv"/><path d="M167 651.9v5.4M165.8 654.6h2.4M169 651.9v5.4M167.8 654.6h2.4M171 651.9v5.4M169.8 654.6h2.4M191.7 666v5.4M190.5 668.7h2.4M193.9 666v5.4M192.7 668.7h2.4M196.8 666v5.4M195.6 668.7h2.4M197.5 673.6v5.4M196.3 676.3h2.4M199.7 673.6v5.4M198.5 676.3h2.4M201.9 673.6v5.4M200.7 676.3h2.4M204.1 673.6v5.4M202.9 676.3h2.4M207 673.6v5.4M205.8 676.3h2.4M215.1 673.6v5.4M213.9 676.3h2.4M219.8 673.6v5.4M218.6 676.3h2.4M223.8 673.6v5.4M222.6 676.3h2.4M226 673.6v5.4M224.8 676.3h2.4M226.8 673.6v5.4M225.6 676.3h2.4M228.2 673.6v5.4M227 676.3h2.4M235.5 673.6v5.4M234.3 676.3h2.4M245 673.6v5.4M243.8 676.3h2.4" stroke="#0d4a86" stroke-width="1.1" class="cs"/><path d="M54.6 580.6 59.2 584.5 65.4 589.1 68.5 592.9 71.5 597.5 76.2 601.4 80.8 603.7 83.1 606.8 85.4 612.9 88.5 618.3 94.6 622.9 99.2 625.2 105.4 626 109.2 629.1 111.5 634.5 117.7 635.2 120.8 637.5 123.8 643.7 125 645.4 128.1 649.2" stroke="#c8102e" stroke-width="2.3" class="cv"/><path d="M56.74 579.91v5M54.64 582.41h4.2M58.87 581.72v5M56.77 584.22h4.2M61.1 583.41v5M59 585.91h4.2M63.35 585.08v5M61.25 587.58h4.2M65.56 586.79v5M63.46 589.29h4.2M67.33 588.96v5M65.23 591.46h4.2M69.02 591.19v5M66.92 593.69h4.2M70.55 593.54v5M68.45 596.04h4.2M72.31 595.67v5M70.21 598.17h4.2M74.47 597.46v5M72.37 599.96h4.2M76.69 599.14v5M74.59 601.64h4.2M79.19 600.4v5M77.09 602.9h4.2M81.4 602.01v5M79.3 604.51h4.2M83.07 604.25v5M80.97 606.75h4.2M84.07 606.87v5M81.97 609.37h4.2M85.06 609.49v5M82.96 611.99h4.2M86.31 611.98v5M84.21 614.48h4.2M87.7 614.41v5M85.6 616.91h4.2M89.46 616.52v5M87.36 619.02h4.2M91.69 618.21v5M89.59 620.71h4.2M93.93 619.89v5M91.83 622.39h4.2M96.35 621.28v5M94.25 623.78h4.2M98.85 622.53v5M96.75 625.03h4.2M101.59 623.01v5M99.49 625.51h4.2M104.37 623.37v5M102.27 625.87h4.2M106.77 624.61v5M104.67 627.11h4.2M108.94 626.38v5M106.84 628.88h4.2M110.16 628.86v5M108.06 631.36h4.2M111.26 631.44v5M109.16 633.94h4.2M113.68 632.25v5M111.58 634.75h4.2M116.46 632.56v5M114.36 635.06h4.2M118.94 633.62v5M116.84 636.12h4.2M121.01 635.44v5M118.91 637.94h4.2M122.23 637.96v5M120.13 640.46h4.2M123.45 640.48v5M121.35 642.98h4.2M124.95 642.84v5M122.85 645.34h4.2M126.72 645.01v5M124.62 647.51h4.2" stroke="#c8102e" stroke-width="1.0" class="cs"/><path d="M128.1 649.2 132.7 651.2 138.8 652.3 143.5 654.6 147.3 659.2 148.1 663.1 157.3 663.1 158.8 666.9 161.2 670.8 166.5 671.5 169.6 674.6 171.2 677.7 173.5 680.8 175.8 687.7 175.8 688.3 193.2 688.3 193.4 693.6 208.5 693.6 208.9 716.1 245 716.1" stroke="#c8102e" stroke-width="1.8" class="cv"/><path d="M131 647.8v5.4M129.8 650.5h2.4M134 648.8v5.4M132.8 651.5h2.4M137 649.3v5.4M135.8 652h2.4M140 650.3v5.4M138.8 653h2.4M143 651.8v5.4M141.8 654.5h2.4M146 654.8v5.4M144.8 657.5h2.4M149 660.4v5.4M147.8 663.1h2.4M151 660.4v5.4M149.8 663.1h2.4M153 660.4v5.4M151.8 663.1h2.4M155 660.4v5.4M153.8 663.1h2.4M159 664.3v5.4M157.8 667h2.4M161 667.8v5.4M159.8 670.5h2.4M164 668.3v5.4M162.8 671h2.4M167 669.3v5.4M165.8 672h2.4M170 672.3v5.4M168.8 675h2.4M172 675.8v5.4M170.8 678.5h2.4M186.6 685.6v5.4M185.4 688.3h2.4M188.8 685.6v5.4M187.6 688.3h2.4M190.2 685.6v5.4M189 688.3h2.4M191.7 685.6v5.4M190.5 688.3h2.4M196.1 690.9v5.4M194.9 693.6h2.4M198.3 690.9v5.4M197.1 693.6h2.4M200.5 690.9v5.4M199.3 693.6h2.4M202.7 690.9v5.4M201.5 693.6h2.4M204.8 690.9v5.4M203.6 693.6h2.4M207 690.9v5.4M205.8 693.6h2.4M208.5 690.9v5.4M207.3 693.6h2.4M235.5 713.4v5.4M234.3 716.1h2.4M244.3 713.4v5.4M243.1 716.1h2.4" stroke="#c8102e" stroke-width="1.1" class="cs"/></g>
<g id="pF"><text x="268.8" y="571.5" class="let">F</text><rect x="299.8" y="576.3" width="211.6" height="188.9" class="ax"/><line x1="295.8" y1="760.6" x2="299.8" y2="760.6" class="tk"/><text transform="translate(294.3,764) scale(1.0,1)" class="tl" text-anchor="end">0.0</text><line x1="295.8" y1="724.68" x2="299.8" y2="724.68" class="tk"/><text transform="translate(294.3,728.08) scale(1.0,1)" class="tl" text-anchor="end">0.2</text><line x1="295.8" y1="688.76" x2="299.8" y2="688.76" class="tk"/><text transform="translate(294.3,692.16) scale(1.0,1)" class="tl" text-anchor="end">0.4</text><line x1="295.8" y1="652.84" x2="299.8" y2="652.84" class="tk"/><text transform="translate(294.3,656.24) scale(1.0,1)" class="tl" text-anchor="end">0.6</text><line x1="295.8" y1="616.92" x2="299.8" y2="616.92" class="tk"/><text transform="translate(294.3,620.32) scale(1.0,1)" class="tl" text-anchor="end">0.8</text><line x1="295.8" y1="581" x2="299.8" y2="581" class="tk"/><text transform="translate(294.3,584.4) scale(1.0,1)" class="tl" text-anchor="end">1.0</text><line x1="310.8" y1="765.2" x2="310.8" y2="769.2" class="tk"/><text transform="translate(311.1,777.9) scale(0.93,1)" class="tl" text-anchor="middle">0</text><line x1="338.21" y1="765.2" x2="338.21" y2="769.2" class="tk"/><text transform="translate(338.51,777.9) scale(0.93,1)" class="tl" text-anchor="middle">12</text><line x1="365.62" y1="765.2" x2="365.62" y2="769.2" class="tk"/><text transform="translate(365.92,777.9) scale(0.93,1)" class="tl" text-anchor="middle">24</text><line x1="393.02" y1="765.2" x2="393.02" y2="769.2" class="tk"/><text transform="translate(393.32,777.9) scale(0.93,1)" class="tl" text-anchor="middle">36</text><line x1="420.43" y1="765.2" x2="420.43" y2="769.2" class="tk"/><text transform="translate(420.73,777.9) scale(0.93,1)" class="tl" text-anchor="middle">48</text><line x1="447.84" y1="765.2" x2="447.84" y2="769.2" class="tk"/><text transform="translate(448.14,777.9) scale(0.93,1)" class="tl" text-anchor="middle">60</text><line x1="475.25" y1="765.2" x2="475.25" y2="769.2" class="tk"/><text transform="translate(475.55,777.9) scale(0.93,1)" class="tl" text-anchor="middle">72</text><line x1="493.52" y1="765.2" x2="493.52" y2="769.2" class="tk"/><text transform="translate(493.82,777.9) scale(0.93,1)" class="tl" text-anchor="middle">80</text><text x="405.6" y="791" class="ttl" text-anchor="middle" textLength="48.2" lengthAdjust="spacingAndGlyphs">Time (months)</text><text transform="translate(275.5,670.75) rotate(-90)" x="0" y="0" class="ttl" text-anchor="middle" textLength="107.9" lengthAdjust="spacingAndGlyphs">Probability of event free survival</text><text x="304.3" y="761" class="pv" font-style="italic">P</text><path d="M317.2 756.2L312.1 758.5L317.2 760.8" stroke="#333333" stroke-width="0.8" fill="none"/><text x="319.2" y="761" class="pv">.001</text><rect x="458.7" y="580.3" width="48.8" height="29.6" class="lg"/><text x="468.7" y="588.3" class="lgt">CIRS6</text><line x1="462.1" y1="595.4" x2="488.2" y2="595.4" stroke="#0d4a86" stroke-width="1.7"/><line x1="462.1" y1="604.5" x2="488.2" y2="604.5" stroke="#c8102e" stroke-width="1.7"/><text x="490.7" y="598.1" class="lgt">&#8804;</text><text x="497.9" y="598.1" class="lgt">6</text><path d="M490.9 601.3L496.1 603.95L490.9 606.6" stroke="#333333" stroke-width="0.85" fill="none"/><text x="498.8" y="606.8" class="lgt">6</text><text x="285.5" y="805.6" class="rk" fill="#1f5c98" stroke="#1f5c98" text-anchor="end">&#8804;</text><text x="293.3" y="805.6" class="rk" fill="#1f5c98" stroke="#1f5c98" text-anchor="end">6</text><path d="M279.1 809.6L285.2 812.65L279.1 815.7" stroke="#c81e3c" stroke-width="0.8" fill="none"/><text x="293.3" y="815.6" class="rk" fill="#c81e3c" stroke="#c81e3c" text-anchor="end">6</text><text transform="translate(310.5,805.6) scale(0.96,1)" class="rkn" fill="#1f5c98" stroke="#1f5c98" text-anchor="middle">281</text><text transform="translate(310.5,815.6) scale(0.96,1)" class="rkn" fill="#c81e3c" stroke="#c81e3c" text-anchor="middle">203</text><text transform="translate(337.91,805.6) scale(0.96,1)" class="rkn" fill="#1f5c98" stroke="#1f5c98" text-anchor="middle">193</text><text transform="translate(337.91,815.6) scale(0.96,1)" class="rkn" fill="#c81e3c" stroke="#c81e3c" text-anchor="middle">125</text><text transform="translate(365.32,805.6) scale(0.96,1)" class="rkn" fill="#1f5c98" stroke="#1f5c98" text-anchor="middle">116</text><text transform="translate(365.32,815.6) scale(0.96,1)" class="rkn" fill="#c81e3c" stroke="#c81e3c" text-anchor="middle">84</text><text transform="translate(392.72,805.6) scale(0.96,1)" class="rkn" fill="#1f5c98" stroke="#1f5c98" text-anchor="middle">71</text><text transform="translate(392.72,815.6) scale(0.96,1)" class="rkn" fill="#c81e3c" stroke="#c81e3c" text-anchor="middle">50</text><text transform="translate(420.13,805.6) scale(0.96,1)" class="rkn" fill="#1f5c98" stroke="#1f5c98" text-anchor="middle">35</text><text transform="translate(420.13,815.6) scale(0.96,1)" class="rkn" fill="#c81e3c" stroke="#c81e3c" text-anchor="middle">25</text><text transform="translate(447.54,805.6) scale(0.96,1)" class="rkn" fill="#1f5c98" stroke="#1f5c98" text-anchor="middle">24</text><text transform="translate(447.54,815.6) scale(0.96,1)" class="rkn" fill="#c81e3c" stroke="#c81e3c" text-anchor="middle">10</text><text transform="translate(474.95,805.6) scale(0.96,1)" class="rkn" fill="#1f5c98" stroke="#1f5c98" text-anchor="middle">7</text><text transform="translate(474.95,815.6) scale(0.96,1)" class="rkn" fill="#c81e3c" stroke="#c81e3c" text-anchor="middle">2</text><text transform="translate(493.22,805.6) scale(0.96,1)" class="rkn" fill="#1f5c98" stroke="#1f5c98" text-anchor="middle">1</text><text transform="translate(493.22,815.6) scale(0.96,1)" class="rkn" fill="#c81e3c" stroke="#c81e3c" text-anchor="middle">1</text><path d="M310.4 582.2 315.8 588.3 320.4 592.9 325 595.2 331.2 599.1 336.5 603.7 339.6 603.7 343.5 608.3 349.6 615.2 354.2 619.1 360.4 625.2 366.5 630.6 367.3 634.6" stroke="#0d4a86" stroke-width="3.4" class="cv"/><path d="M367.3 634.6 371.2 637.7 375.8 640 380.4 642.3 385 643.8 389.6 644.6 395.8 646.2 401.9 647.7 406.5 648.5 409.6 652.3 414.2 656.2 418.1 659.2 421.9 661.5 423.5 662.5" stroke="#0d4a86" stroke-width="2.3" class="cv"/><path d="M369 633.3v5.4M367.8 636h2.4M372 635.3v5.4M370.8 638h2.4M375 636.8v5.4M373.8 639.5h2.4M378 638.3v5.4M376.8 641h2.4M381 639.8v5.4M379.8 642.5h2.4M384 640.8v5.4M382.8 643.5h2.4M387 641.3v5.4M385.8 644h2.4M390 641.9v5.4M388.8 644.6h2.4M393 642.8v5.4M391.8 645.5h2.4M396 643.5v5.4M394.8 646.2h2.4M399 644.3v5.4M397.8 647h2.4M402 645v5.4M400.8 647.7h2.4M405 645.6v5.4M403.8 648.3h2.4M408 647.3v5.4M406.8 650h2.4M410 649.8v5.4M408.8 652.5h2.4M413 652.3v5.4M411.8 655h2.4M416 654.8v5.4M414.8 657.5h2.4M419 656.8v5.4M417.8 659.5h2.4M421.5 658.8v5.4M420.3 661.5h2.4" stroke="#0d4a86" stroke-width="1.1" class="cs"/><path d="M423.5 662.5 431.5 662.5 432.3 665.4 439.2 665.4 439.7 672.3 443.8 672.3 444.3 676.2 446.9 676.9 448.5 679.2 450.8 680 451.5 682.3 453.1 684.6 453.8 687 503 687" stroke="#0d4a86" stroke-width="1.5" class="cv"/><path d="M425 659.8v5.4M423.8 662.5h2.4M427 659.8v5.4M425.8 662.5h2.4M429 659.8v5.4M427.8 662.5h2.4M447 674.3v5.4M445.8 677h2.4M449 676.8v5.4M447.8 679.5h2.4M451 678.3v5.4M449.8 681h2.4M452.5 680.8v5.4M451.3 683.5h2.4M454.6 684.3v5.4M453.4 687h2.4M455.7 684.3v5.4M454.5 687h2.4M459.2 684.3v5.4M458 687h2.4M461.5 684.3v5.4M460.3 687h2.4M463.5 684.3v5.4M462.3 687h2.4M471.5 684.3v5.4M470.3 687h2.4M476 684.3v5.4M474.8 687h2.4M479.5 684.3v5.4M478.3 687h2.4M481.5 684.3v5.4M480.3 687h2.4M482.5 684.3v5.4M481.3 687h2.4M484 684.3v5.4M482.8 687h2.4M492 684.3v5.4M490.8 687h2.4M501 684.3v5.4M499.8 687h2.4" stroke="#0d4a86" stroke-width="1.1" class="cs"/><path d="M310.4 580.6 314.2 586 318.1 592.9 319.6 596.8 320.4 602.2 322.7 606.8 326.5 611.4 331.9 613.7 335.8 616.8 338.1 622.2 341.9 629.8 346.5 634.5 351.2 639.1 355.8 642.2 360.4 643.7 363.5 646 365 646.2 368.1 652.3 371.2 656.9 375.8 661.5 378.8 666.2 381.9 670.8 385 674.6" stroke="#c8102e" stroke-width="2.3" class="cv"/><path d="M312.01 580.39v5M309.91 582.89h4.2M313.62 582.68v5M311.52 585.18h4.2M315.08 585.06v5M312.98 587.56h4.2M316.46 587.5v5M314.36 590h4.2M317.84 589.94v5M315.74 592.44h4.2M318.92 592.52v5M316.82 595.02h4.2M319.73 595.18v5M317.63 597.68h4.2M320.14 597.95v5M318.04 600.45h4.2M320.86 600.62v5M318.76 603.12h4.2M322.11 603.13v5M320.01 605.63h4.2M323.65 605.45v5M321.55 607.95h4.2M325.43 607.61v5M323.33 610.11h4.2M327.53 609.34v5M325.43 611.84h4.2M330.11 610.44v5M328.01 612.94h4.2M332.57 611.73v5M330.47 614.23h4.2M334.76 613.47v5M332.66 615.97h4.2M336.38 615.65v5M334.28 618.15h4.2M337.47 618.23v5M335.37 620.73h4.2M338.64 620.78v5M336.54 623.28h4.2M339.89 623.28v5M337.79 625.78h4.2M341.14 625.79v5M339.04 628.29h4.2M342.67 628.09v5M340.57 630.59h4.2M344.63 630.09v5M342.53 632.59h4.2M346.59 632.09v5M344.49 634.59h4.2M348.59 634.05v5M346.49 636.55h4.2M350.59 636.01v5M348.49 638.51h4.2M352.82 637.69v5M350.72 640.19h4.2M355.14 639.26v5M353.04 641.76h4.2M357.71 640.32v5M355.61 642.82h4.2M360.37 641.19v5M358.27 643.69h4.2M362.62 642.85v5M360.52 645.35h4.2M365.09 643.87v5M362.99 646.37h4.2M366.36 646.37v5M364.26 648.87h4.2M367.63 648.87v5M365.53 651.37h4.2M369.08 651.25v5M366.98 653.75h4.2M370.64 653.57v5M368.54 656.07h4.2M372.48 655.68v5M370.38 658.18h4.2M374.46 657.66v5M372.36 660.16h4.2M376.28 659.76v5M374.18 662.26h4.2M377.79 662.12v5M375.69 664.62h4.2M379.32 664.47v5M377.22 666.97h4.2M380.88 666.79v5M378.78 669.29h4.2M382.52 669.06v5M380.42 671.56h4.2M384.29 671.23v5M382.19 673.73h4.2" stroke="#c8102e" stroke-width="1.0" class="cs"/><path d="M385 674.6 391.2 676.9 396.5 677.7 402.7 678.5 405 681.5 408.1 686.2 411.2 689.2 415.8 690.8 419.6 691.5 423.1 691.5 423.4 694.6 424.6 697.7 426.9 698.5 427.7 703.8 429.2 705.4 430 710 431.5 713.8 445.4 713.8 446.9 716.2 448.5 719.2 450 723.8 502.5 723.8" stroke="#c8102e" stroke-width="1.7" class="cv"/><path d="M387 672.8v5.4M385.8 675.5h2.4M390 673.8v5.4M388.8 676.5h2.4M393 674.5v5.4M391.8 677.2h2.4M396 675v5.4M394.8 677.7h2.4M399 675.3v5.4M397.8 678h2.4M402 675.8v5.4M400.8 678.5h2.4M405 678.8v5.4M403.8 681.5h2.4M407 681.8v5.4M405.8 684.5h2.4M409 684.8v5.4M407.8 687.5h2.4M412 686.8v5.4M410.8 689.5h2.4M415 687.8v5.4M413.8 690.5h2.4M418 688.8v5.4M416.8 691.5h2.4M421 688.8v5.4M419.8 691.5h2.4M424 692.1v5.4M422.8 694.8h2.4M425 695v5.4M423.8 697.7h2.4M427.5 700.3v5.4M426.3 703h2.4M429.5 703.3v5.4M428.3 706h2.4M444.5 711.1v5.4M443.3 713.8h2.4M446 711.1v5.4M444.8 713.8h2.4M447 713.8v5.4M445.8 716.5h2.4M448.5 716.8v5.4M447.3 719.5h2.4M452.3 721.1v5.4M451.1 723.8h2.4M454.6 721.1v5.4M453.4 723.8h2.4M463.1 721.1v5.4M461.9 723.8h2.4M463.8 721.1v5.4M462.6 723.8h2.4M492 721.1v5.4M490.8 723.8h2.4M500 721.1v5.4M498.8 723.8h2.4" stroke="#c8102e" stroke-width="1.1" class="cs"/></g>
<rect x="0" y="0" width="520" height="1" fill="#111"/><rect x="0" y="0" width="1.1" height="824" fill="#111"/><rect x="518.7" y="0" width="1.3" height="824" fill="#111"/><rect x="0" y="822.4" width="520" height="1.6" fill="#111"/>
</svg>
</body></html>
